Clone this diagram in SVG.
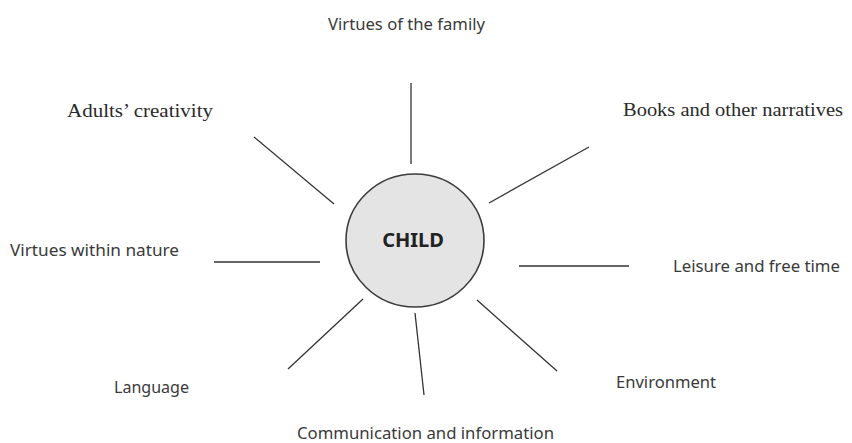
<svg xmlns="http://www.w3.org/2000/svg" width="852" height="443" viewBox="0 0 852 443">
  <style>
    .sans { font-family: "Noto Sans", "Open Sans", sans-serif; font-size: 16.7px; fill: #3a3a3a; }
    .serif { font-family: "Liberation Serif", "Times New Roman", serif; font-size: 19.5px; fill: #2a2a2a; }
    .spoke { stroke: #333; stroke-width: 1.3; fill: none; stroke-linecap: butt; }
    .hub { fill: #e4e4e4; stroke: #3c3c3c; stroke-width: 1.6; }
    .hubtext { font-family: "Noto Sans", "Open Sans", sans-serif; font-size: 20px; font-weight: bold; fill: #222; }
  </style>
  <rect width="852" height="443" fill="#ffffff"/>

  <g id="connectors">
    <line class="spoke" x1="411" y1="83" x2="411" y2="164"/>
    <line class="spoke" x1="254" y1="137" x2="334" y2="204"/>
    <line class="spoke" x1="489" y1="203" x2="589" y2="147"/>
    <line class="spoke" x1="214" y1="262" x2="320" y2="262"/>
    <line class="spoke" x1="519" y1="266" x2="629" y2="266"/>
    <line class="spoke" x1="363" y1="299" x2="288" y2="369"/>
    <line class="spoke" x1="415" y1="313" x2="424" y2="395"/>
    <line class="spoke" x1="477" y1="300" x2="557" y2="371"/>
  </g>

  <g id="child">
    <ellipse class="hub" cx="415" cy="240.5" rx="69" ry="66.5"/>
    <text class="hubtext" x="413" y="247" text-anchor="middle">CHILD</text>
  </g>

  <g id="virtues-family">
    <text class="sans" x="328" y="30" textLength="157" lengthAdjust="spacingAndGlyphs">Virtues of the family</text>
  </g>
  <g id="adults-creativity">
    <text class="serif" x="67" y="117" textLength="146" lengthAdjust="spacingAndGlyphs">Adults’ creativity</text>
  </g>
  <g id="books">
    <text class="serif" x="623" y="116" textLength="220" lengthAdjust="spacingAndGlyphs">Books and other narratives</text>
  </g>
  <g id="virtues-nature">
    <text class="sans" x="10" y="256" textLength="169" lengthAdjust="spacingAndGlyphs">Virtues within nature</text>
  </g>
  <g id="leisure">
    <text class="sans" x="673" y="272" textLength="167" lengthAdjust="spacingAndGlyphs">Leisure and free time</text>
  </g>
  <g id="language">
    <text class="sans" x="114" y="393" textLength="75" lengthAdjust="spacingAndGlyphs">Language</text>
  </g>
  <g id="environment">
    <text class="sans" x="616" y="388" textLength="100" lengthAdjust="spacingAndGlyphs">Environment</text>
  </g>
  <g id="communication">
    <text class="sans" x="297" y="439" textLength="257" lengthAdjust="spacingAndGlyphs">Communication and information</text>
  </g>
</svg>
